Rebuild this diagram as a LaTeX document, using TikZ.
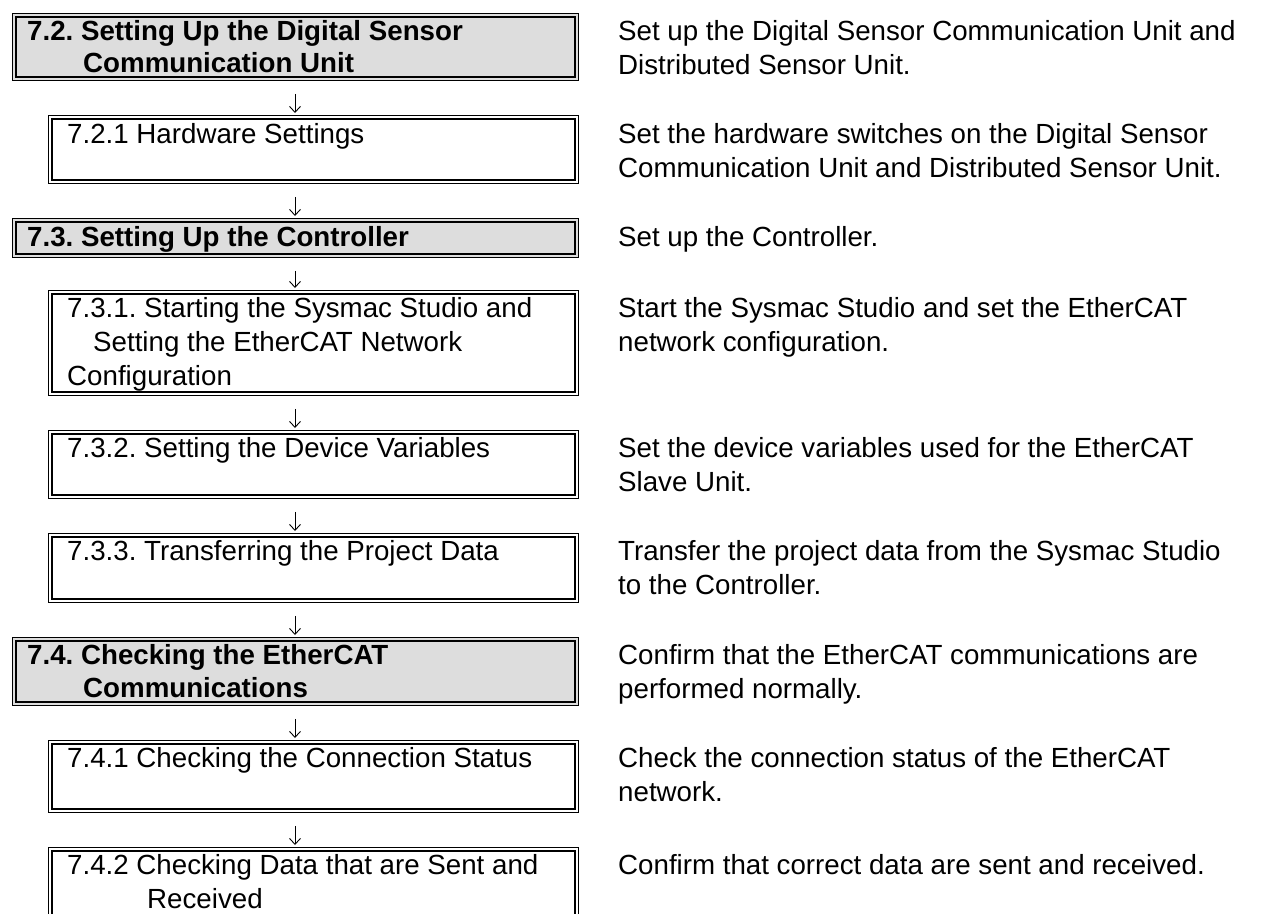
\documentclass[tikz,border=0pt]{standalone}
\usepackage{fontspec}
\setmainfont{Liberation Sans}
\usetikzlibrary{arrows.meta}
\definecolor{headgray}{RGB}{221,221,221}
\frenchspacing
\tikzset{
  box/.style={draw, line width=0.9pt, anchor=north west, inner sep=0pt,
    path picture={\draw[line width=2.6pt]
      ([shift={(3.4pt,-3.4pt)}]path picture bounding box.north west) rectangle
      ([shift={(-3.4pt,3.4pt)}]path picture bounding box.south east);}},
  major/.style={box, fill=headgray, minimum width=566pt},
  sub/.style={box, minimum width=530pt},
  txt/.style={anchor=base west, inner sep=0pt, font=\fontsize{27.7}{34}\selectfont\frenchspacing},
  btxt/.style={anchor=base west, inner sep=0pt, font=\fontsize{27.7}{34}\selectfont\bfseries\frenchspacing},
  arr/.style={line width=0.9pt, -{Straight Barb[length=6pt,width=11pt]}, shorten <=13pt, shorten >=2pt}
}
\begin{document}
\begin{tikzpicture}[x=1pt,y=1pt]
\useasboundingbox (0,0) rectangle (1269,-913);
% boxes
\node[major, minimum height=67pt] (s72)  at (12,-13) {};
\node[sub,   minimum height=68pt] (s721) at (48,-115) {};
\node[major, minimum height=39pt] (s73)  at (12,-218) {};
\node[sub,   minimum height=105pt] (s731) at (48,-290) {};
\node[sub,   minimum height=68pt] (s732) at (48,-430) {};
\node[sub,   minimum height=69pt] (s733) at (48,-533) {};
\node[major, minimum height=68pt] (s74)  at (12,-637) {};
\node[sub,   minimum height=72pt] (s741) at (48,-740) {};
\node[sub,   minimum height=72pt] (s742) at (48,-847) {};
% left texts
\node[btxt] (l72a) at (27,-40) {7.2. Setting Up the Digital Sensor};
\node[btxt] (l72b) at (83,-72) {Communication Unit};
\node[txt] (l721) at (67,-143) {7.2.1 Hardware Settings};
\node[btxt] (l73) at (27,-246) {7.3. Setting Up the Controller};
\node[txt] (l731a) at (67,-317) {7.3.1. Starting the Sysmac Studio and};
\node[txt] (l731b) at (93,-351) {Setting the EtherCAT Network};
\node[txt] (l731c) at (67,-385) {Configuration};
\node[txt] (l732) at (67,-457) {7.3.2. Setting the Device Variables};
\node[txt] (l733) at (67,-560) {7.3.3. Transferring the Project Data};
\node[btxt] (l74a) at (27,-664) {7.4. Checking the EtherCAT};
\node[btxt] (l74b) at (83,-697) {Communications};
\node[txt] (l741) at (67,-767) {7.4.1 Checking the Connection Status};
\node[txt] (l742a) at (67,-874) {7.4.2 Checking Data that are Sent and};
\node[txt] (l742b) at (147,-908) {Received};
% right texts
\node[txt] (r72a) at (618,-40) {Set up the Digital Sensor Communication Unit and};
\node[txt] (r72b) at (618,-74) {Distributed Sensor Unit.};
\node[txt] (r721a) at (618,-143) {Set the hardware switches on the Digital Sensor};
\node[txt] (r721b) at (618,-177) {Communication Unit and Distributed Sensor Unit.};
\node[txt] (r73) at (618,-246) {Set up the Controller.};
\node[txt] (r731a) at (618,-317) {Start the Sysmac Studio and set the EtherCAT};
\node[txt] (r731b) at (618,-351) {network configuration.};
\node[txt] (r732a) at (618,-457) {Set the device variables used for the EtherCAT};
\node[txt] (r732b) at (618,-491) {Slave Unit.};
\node[txt] (r733a) at (618,-560) {Transfer the project data from the Sysmac Studio};
\node[txt] (r733b) at (618,-594) {to the Controller.};
\node[txt] (r74a) at (618,-664) {Confirm that the EtherCAT communications are};
\node[txt] (r74b) at (618,-698) {performed normally.};
\node[txt] (r741a) at (618,-767) {Check the connection status of the EtherCAT};
\node[txt] (r741b) at (618,-801) {network.};
\node[txt] (r742) at (618,-874) {Confirm that correct data are sent and received.};
% arrows
\coordinate (ax) at (295,0);
\draw[arr] (ax |- s72.south)  -- (ax |- s721.north);
\draw[arr] (ax |- s721.south) -- (ax |- s73.north);
\draw[arr] (ax |- s73.south)  -- (ax |- s731.north);
\draw[arr] (ax |- s731.south) -- (ax |- s732.north);
\draw[arr] (ax |- s732.south) -- (ax |- s733.north);
\draw[arr] (ax |- s733.south) -- (ax |- s74.north);
\draw[arr] (ax |- s74.south)  -- (ax |- s741.north);
\draw[arr] (ax |- s741.south) -- (ax |- s742.north);
\end{tikzpicture}
\end{document}
